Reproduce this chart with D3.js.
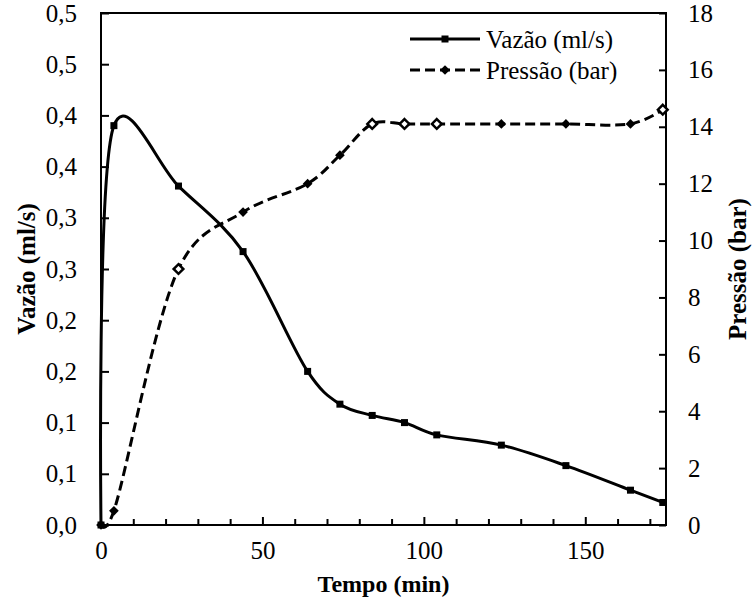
<!DOCTYPE html>
<html>
<head>
<meta charset="utf-8">
<script src="https://cdn.jsdelivr.net/npm/d3@7"></script>
<style>
  body { margin: 0; background: #fff; }
  svg, svg text, svg g { font-family: "Liberation Serif", "Times New Roman", Tinos, Times, serif !important; }
</style>
</head>
<body>
<svg width="752" height="600"></svg>
<script>
// data
const tempo = [0, 4, 24, 44, 64, 74, 84, 94, 104, 124, 144, 164, 174];
const vazao = [0, 0.39, 0.331, 0.267, 0.150, 0.118, 0.107, 0.100, 0.088, 0.078, 0.058, 0.034, 0.022];
const pressao = [0, 0.5, 9.0, 11.0, 12.0, 13.0, 14.1, 14.1, 14.1, 14.1, 14.1, 14.1, 14.6];
const leftTicks = [0, 0.05, 0.1, 0.15, 0.2, 0.25, 0.3, 0.35, 0.4, 0.45, 0.5];
const leftTickLabels = ["0,0", "0,1", "0,1", "0,2", "0,2", "0,3", "0,3", "0,4", "0,4", "0,5", "0,5"];
const rightTicks = [0, 2, 4, 6, 8, 10, 12, 14, 16, 18];
const xTicks = [0, 50, 100, 150];
const xMinorTicks = [10, 20, 30, 40, 60, 70, 80, 90, 110, 120, 130, 140, 160, 170];
const seriesNames = ["Vazão (ml/s)", "Pressão (bar)"];

// markers drawn open in the original
const hollowPressao = [24, 84, 94, 104, 174];

const svg = d3.select("svg");
const plot = { left: 101, right: 666, top: 13, bottom: 525 };

const x = d3.scaleLinear().domain([0, 175]).range([plot.left, plot.right]);
const yL = d3.scaleLinear().domain([0, 0.5]).range([plot.bottom, plot.top]);
const yR = d3.scaleLinear().domain([0, 18]).range([plot.bottom, plot.top]);

const FONT = 25;

// axes (ticks point inward)
const gx = svg.append("g").attr("transform", `translate(0,${plot.bottom})`)
  .call(d3.axisBottom(x).tickValues(xTicks).tickSize(-8).tickSizeOuter(0).tickPadding(16));
const gxMinor = svg.append("g").attr("transform", `translate(0,${plot.bottom})`)
  .call(d3.axisBottom(x).tickValues(xMinorTicks).tickSize(-6).tickSizeOuter(0).tickFormat(""));
const gl = svg.append("g").attr("transform", `translate(${plot.left},0)`)
  .call(d3.axisLeft(yL).tickValues(leftTicks).tickSize(-8).tickSizeOuter(0).tickPadding(24)
    .tickFormat((d, i) => leftTickLabels[i]));
const gr = svg.append("g").attr("transform", `translate(${plot.right},0)`)
  .call(d3.axisRight(yR).tickValues(rightTicks).tickSize(-7).tickSizeOuter(0).tickPadding(22));

[gx, gxMinor, gl, gr].forEach(g => {
  g.attr("font-family", null).attr("font-size", FONT);
  g.select(".domain").remove();
  g.selectAll("line").attr("stroke", "#000").attr("stroke-width", 2);
  g.selectAll("text").attr("fill", "#000");
});
gx.selectAll(".tick").filter(d => d === 0).select("line").remove();

// frame
svg.append("rect")
  .attr("x", plot.left).attr("y", plot.top)
  .attr("width", plot.right - plot.left).attr("height", plot.bottom - plot.top)
  .attr("fill", "none").attr("stroke", "#000").attr("stroke-width", 2);

// axis titles
svg.append("text")
  .attr("x", (plot.left + plot.right) / 2).attr("y", 592)
  .attr("text-anchor", "middle").attr("font-size", 24).attr("font-weight", "bold")
  .text("Tempo (min)");
svg.append("text")
  .attr("transform", `translate(35,${(plot.top + plot.bottom) / 2}) rotate(-90)`)
  .attr("text-anchor", "middle").attr("font-size", FONT).attr("font-weight", "bold")
  .text("Vazão (ml/s)");
svg.append("text")
  .attr("transform", `translate(746,${(plot.top + plot.bottom) / 2}) rotate(-90)`)
  .attr("text-anchor", "middle").attr("font-size", FONT).attr("font-weight", "bold")
  .text("Pressão (bar)");

// lines
const smooth = d3.curveCatmullRom.alpha(0.15);
const vazaoLine = d3.line().x((d, i) => x(tempo[i])).y(d => yL(d)).curve(smooth);
const pressaoLine = d3.line().x((d, i) => x(tempo[i])).y(d => yR(d)).curve(smooth);

svg.append("path").datum(vazao)
  .attr("d", vazaoLine).attr("fill", "none").attr("stroke", "#000").attr("stroke-width", 3);
svg.append("path").datum(pressao)
  .attr("d", pressaoLine).attr("fill", "none").attr("stroke", "#000")
  .attr("stroke-width", 3).attr("stroke-dasharray", "10,5");

const sq = 7;
svg.append("g").selectAll("rect").data(vazao).join("rect")
  .attr("x", (d, i) => x(tempo[i]) - sq / 2).attr("y", d => yL(d) - sq / 2)
  .attr("width", sq).attr("height", sq).attr("fill", "#000");

const diamond = d3.symbol().type(d3.symbolDiamond2).size(60);
svg.append("g").selectAll("path").data(pressao).join("path")
  .attr("transform", (d, i) => `translate(${x(tempo[i])},${yR(d)})`)
  .attr("d", diamond)
  .attr("fill", (d, i) => hollowPressao.includes(tempo[i]) ? "#fff" : "#000")
  .attr("stroke", "#000").attr("stroke-width", (d, i) => hollowPressao.includes(tempo[i]) ? 2.5 : 0);

// legend
const legend = svg.append("g");
const rows = [
  { name: seriesNames[0], y: 39, dash: null },
  { name: seriesNames[1], y: 70, dash: "10,5" }
];
rows.forEach((r, k) => {
  legend.append("line")
    .attr("x1", 410).attr("x2", 480).attr("y1", r.y).attr("y2", r.y)
    .attr("stroke", "#000").attr("stroke-width", 3)
    .attr("stroke-dasharray", r.dash);
  if (k === 0) {
    legend.append("rect").attr("x", 445 - sq / 2).attr("y", r.y - sq / 2)
      .attr("width", sq).attr("height", sq).attr("fill", "#000");
  } else {
    legend.append("path").attr("transform", `translate(445,${r.y})`)
      .attr("d", diamond).attr("fill", "#000");
  }
  legend.append("text").attr("x", 486).attr("y", r.y + 9)
    .attr("font-size", FONT).text(r.name);
});
</script>
</body>
</html>
